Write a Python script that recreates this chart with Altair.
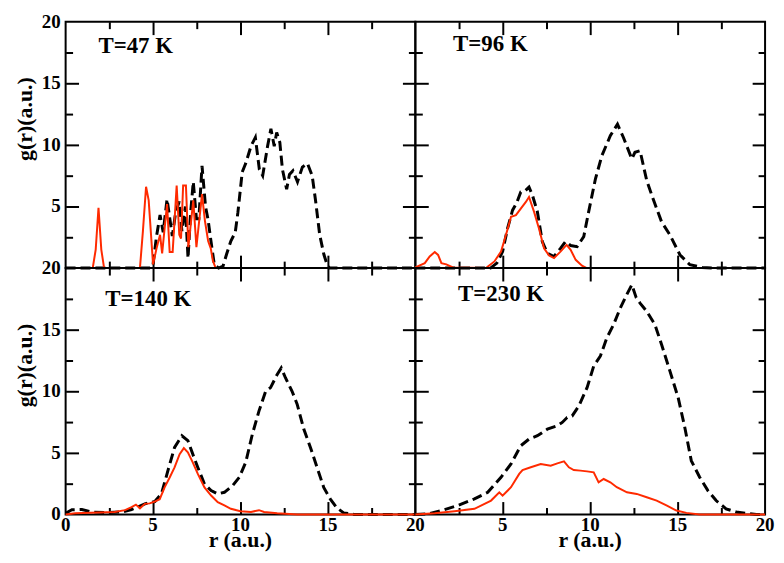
import altair as alt
import pandas as pd

# ---------------- data ----------------
R47_RED = [0, 1.55, 1.72, 1.88, 2.04, 2.2, 4.25, 4.42, 4.6, 4.75, 5.0, 5.2, 5.4, 5.52, 5.8, 5.95, 6.12, 6.35, 6.5, 6.6, 6.72, 6.88, 7.02, 7.3, 7.48, 7.8, 7.97, 8.15, 8.3, 8.42, 8.58, 20]
G47_RED = [0, 0, 1.5, 4.9, 1.5, 0, 0, 3.0, 6.6, 5.5, 0.3, 1.6, 2.7, 1.2, 5.2, 1.3, 1.3, 6.7, 2.7, 2.4, 6.7, 6.7, 1.7, 5.5, 1.7, 6.0, 3.8, 2.2, 1.6, 0.6, 0, 0]
R47_BLK = [0, 4.85, 5.0, 5.2, 5.4, 5.58, 5.8, 5.98, 6.1, 6.3, 6.5, 6.65, 6.85, 7.0, 7.15, 7.3, 7.48, 7.62, 7.8, 8.0, 8.15, 8.3, 8.5, 8.75, 9.0, 9.2, 9.45, 9.7, 9.85, 10.1, 10.3, 10.6, 10.85, 11.08, 11.27, 11.55, 11.74, 11.93, 12.07, 12.25, 12.4, 12.64, 12.8, 13.0, 13.26, 13.54, 13.83, 14.1, 14.3, 14.53, 14.77, 14.97, 15.1, 20]
G47_BLK = [0, 0, 0.3, 2.6, 4.3, 2.9, 5.6, 3.8, 2.6, 4.6, 5.4, 3.0, 5.0, 0.8, 4.5, 7.0, 4.0, 4.0, 8.3, 5.0, 3.9, 2.3, 0.3, 0, 0.15, 1.1, 2.2, 2.9, 4.5, 7.8, 8.5, 9.9, 10.6, 8.0, 7.5, 9.9, 11.3, 9.9, 11.0, 10.2, 8.0, 6.4, 7.6, 7.9, 7.0, 8.2, 8.5, 7.5, 5.4, 2.7, 1.1, 0.2, 0, 0]

R96_RED = [0, 0.54, 0.82, 1.11, 1.3, 1.49, 1.77, 2.15, 4.04, 4.52, 4.9, 5.18, 5.47, 5.75, 6.03, 6.32, 6.5, 6.79, 7.07, 7.36, 7.65, 7.93, 8.3, 8.65, 8.88, 9.17, 9.53, 9.8, 20]
G96_RED = [0.05, 0.4, 0.94, 1.3, 1.07, 0.4, 0.3, 0.05, 0, 0.54, 1.34, 2.68, 4.16, 4.3, 4.83, 5.37, 5.77, 4.56, 3.22, 1.61, 1.02, 0.81, 1.34, 1.88, 1.48, 0.67, 0.2, 0, 0]
R96_BLK = [0, 4.3, 4.66, 4.99, 5.27, 5.56, 5.8, 6.03, 6.3, 6.5, 6.7, 6.98, 7.26, 7.55, 7.93, 8.3, 8.59, 8.88, 9.25, 9.63, 9.91, 10.3, 10.67, 11.15, 11.56, 11.9, 12.38, 12.56, 12.85, 13.23, 13.6, 14.08, 14.56, 15.13, 15.7, 16.4, 17.0, 20]
G96_BLK = [0, 0, 0.4, 1.34, 3.2, 4.7, 5.3, 6.18, 6.3, 6.58, 5.9, 4.56, 2.15, 1.2, 0.94, 1.6, 2.15, 1.83, 1.74, 2.55, 4.56, 7.25, 9.13, 10.74, 11.68, 10.6, 8.86, 9.4, 9.53, 7.12, 5.6, 3.76, 2.69, 1.08, 0.27, 0.05, 0, 0]

R140_RED = [0, 0.55, 1.88, 2.8, 3.4, 3.77, 4.02, 4.25, 4.53, 4.81, 5.1, 5.38, 5.66, 5.95, 6.23, 6.52, 6.76, 6.99, 7.27, 7.56, 7.94, 8.32, 8.7, 9.08, 9.45, 10.0, 10.6, 11.06, 11.35, 12.1, 13.25, 20]
G140_RED = [0, 0.1, 0.16, 0.2, 0.35, 0.59, 0.8, 0.5, 0.86, 0.9, 1.05, 1.24, 2.2, 3.0, 3.82, 4.9, 5.39, 5.04, 4.23, 3.29, 2.2, 1.54, 1.0, 0.73, 0.46, 0.27, 0.2, 0.35, 0.2, 0.1, 0, 0]
R140_BLK = [0, 0.36, 0.93, 1.5, 2.26, 3.2, 3.77, 4.53, 5.1, 5.48, 5.85, 6.23, 6.65, 6.99, 7.27, 7.56, 7.94, 8.32, 8.7, 9.08, 9.55, 9.93, 10.3, 10.68, 11.06, 11.44, 11.72, 12.1, 12.33, 12.57, 12.95, 13.24, 13.62, 14.0, 14.38, 14.76, 15.13, 15.51, 15.9, 16.27, 16.5, 20]
G140_BLK = [0.1, 0.38, 0.4, 0.2, 0.15, 0.2, 0.4, 0.86, 1.05, 1.67, 3.56, 5.44, 6.39, 6.0, 4.9, 3.82, 2.47, 1.94, 1.67, 1.8, 2.34, 3.02, 4.23, 6.52, 8.41, 10.0, 10.3, 11.37, 11.9, 11.1, 10.0, 8.95, 6.93, 5.44, 3.82, 2.2, 1.27, 0.54, 0.13, 0.05, 0, 0]

R230_RED = [0, 1.1, 2.24, 3.38, 4.33, 4.8, 4.99, 5.47, 5.94, 6.13, 6.6, 7.17, 7.74, 8.12, 8.5, 8.78, 9.06, 9.44, 9.82, 10.2, 10.48, 10.77, 11.15, 11.52, 12.1, 12.66, 13.23, 13.8, 14.36, 14.93, 15.5, 16.25, 20]
G230_RED = [0, 0.1, 0.27, 0.46, 1.13, 1.8, 1.53, 2.21, 3.29, 3.61, 3.83, 4.1, 3.96, 4.15, 4.31, 3.83, 3.61, 3.56, 3.5, 3.42, 2.61, 2.88, 2.61, 2.21, 1.8, 1.67, 1.4, 1.13, 0.73, 0.32, 0.13, 0, 0]
R230_BLK = [0, 0.73, 1.49, 2.43, 3.38, 4.14, 4.9, 5.47, 6.03, 6.5, 6.98, 7.55, 8.11, 8.4, 8.68, 8.97, 9.35, 9.82, 10.2, 10.58, 10.95, 11.34, 11.72, 12.09, 12.38, 12.63, 12.85, 13.23, 13.7, 14.08, 14.56, 15.03, 15.41, 15.78, 16.26, 16.73, 17.2, 17.77, 18.35, 18.9, 19.5, 20]
G230_BLK = [0, 0.05, 0.32, 0.73, 1.27, 1.8, 3.02, 4.1, 5.58, 6.12, 6.39, 6.93, 7.2, 7.47, 7.87, 8.0, 8.81, 10.29, 12.05, 12.85, 14.33, 15.42, 16.76, 17.84, 18.65, 17.6, 17.16, 16.49, 15.42, 13.8, 11.64, 9.48, 7.06, 4.37, 3.02, 1.94, 1.13, 0.46, 0.2, 0.1, 0, 0]

LABELS = ["T=47 K", "T=96 K", "T=140 K", "T=230 K"]
X_TITLE = "r (a.u.)"
Y_TITLE = "g(r)(a.u.)"
MAJOR_TICKS = [5, 10, 15]
MINOR_TICKS = [2.5, 7.5, 12.5, 17.5]
TICK_LABELS_FULL = [0, 5, 10, 15, 20]
TICK_LABELS_NOZERO = [5, 10, 15, 20]

# ---------------- style ----------------
W, H = 352, 248
RED = "#ff2a00"
FONT = "Liberation Serif"
MAJ, MIN = 13, 7          # tick lengths in pixels
LO, HI = 0, 20            # axis domain

xs = alt.Scale(domain=[LO, HI], nice=False, zero=False)
ys = alt.Scale(domain=[LO, HI], nice=False, zero=False)


def tick_axis(orient, values, ln):
    """An axis that only draws ticks, pulled inside the frame so they point inward."""
    return alt.Axis(orient=orient, values=values, labels=False, title=None,
                    domain=False, grid=False, ticks=True, tickSize=ln,
                    tickWidth=2, tickColor="black", offset=-ln)


def txt_mark(**kw):
    base = dict(font=FONT, fontWeight="bold", color="black")
    base.update(kw)
    return base


def panel(rr, gr, rb, gb, label, lx, ly, xlabels, ylabels):
    dred = pd.DataFrame({"r": rr, "g": gr})
    dblk = pd.DataFrame({"r": rb, "g": gb})

    def XY(xo, yo, vals, ln):
        return dict(x=alt.X("r:Q", scale=xs, axis=tick_axis(xo, vals, ln)),
                    y=alt.Y("g:Q", scale=ys, axis=tick_axis(yo, vals, ln)))

    black = alt.Chart(dblk).mark_line(color="black", strokeWidth=3, strokeDash=[10, 5]).encode(
        **XY("bottom", "left", MAJOR_TICKS, MAJ))
    red = alt.Chart(dred).mark_line(color=RED, strokeWidth=2).encode(
        **XY("top", "right", MAJOR_TICKS, MAJ))
    ghost1 = alt.Chart(dred).mark_line(color=RED, strokeWidth=2, opacity=0).encode(
        **XY("bottom", "left", MINOR_TICKS, MIN))
    ghost2 = alt.Chart(dred).mark_line(color=RED, strokeWidth=2, opacity=0).encode(
        **XY("top", "right", MINOR_TICKS, MIN))
    txt = alt.Chart(pd.DataFrame({"label": [label]})).mark_text(
        **txt_mark(align="left", baseline="alphabetic", fontSize=23)
    ).encode(x=alt.value(lx), y=alt.value(ly), text="label:N")
    layers = [ghost1, ghost2, black, red, txt]
    if xlabels is not None:
        layers.append(alt.Chart(pd.DataFrame({"v": xlabels})).mark_text(
            **txt_mark(align="center", baseline="top", fontSize=19)
        ).encode(x=alt.X("v:Q", scale=xs, axis=None), y=alt.value(H + 2),
                 text=alt.Text("v:Q", format="d")))
        layers.append(alt.Chart(pd.DataFrame({"t": [X_TITLE]})).mark_text(
            **txt_mark(align="center", baseline="alphabetic", fontSize=22)
        ).encode(x=alt.value(W / 2), y=alt.value(H + 33), text="t:N"))
    if ylabels is not None:
        layers.append(alt.Chart(pd.DataFrame({"v": ylabels})).mark_text(
            **txt_mark(align="right", baseline="middle", fontSize=19)
        ).encode(y=alt.Y("v:Q", scale=ys, axis=None), x=alt.value(-5),
                 text=alt.Text("v:Q", format="d")))
        layers.append(alt.Chart(pd.DataFrame({"t": [Y_TITLE]})).mark_text(
            **txt_mark(align="center", baseline="middle", fontSize=22, angle=270)
        ).encode(x=alt.value(-41), y=alt.value(98), text="t:N"))
    return alt.layer(*layers).resolve_axis(x="independent", y="independent").properties(width=W, height=H)


p1 = panel(R47_RED, G47_RED, R47_BLK, G47_BLK, LABELS[0], 33, 32, None, TICK_LABELS_NOZERO)
p2 = panel(R96_RED, G96_RED, R96_BLK, G96_BLK, LABELS[1], 38, 30, None, None)
p3 = panel(R140_RED, G140_RED, R140_BLK, G140_BLK, LABELS[2], 40, 38, TICK_LABELS_FULL, TICK_LABELS_FULL)
p4 = panel(R230_RED, G230_RED, R230_BLK, G230_BLK, LABELS[3], 43, 33, TICK_LABELS_NOZERO, None)

chart = alt.concat(p1, p2, p3, p4, columns=2, spacing=0, bounds="flush").properties(
    padding={"left": 5, "top": 2, "right": 0, "bottom": 0}
).configure_view(stroke="black", strokeWidth=2)

chart.save("out.html", embed_options={"renderer": "svg", "actions": False})
